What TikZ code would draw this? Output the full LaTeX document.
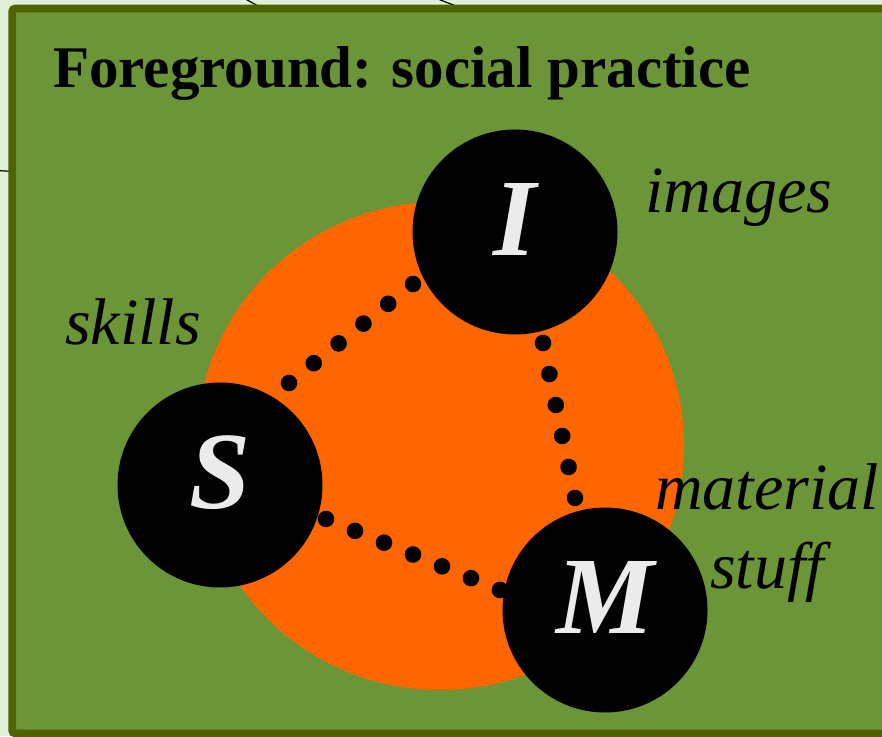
\documentclass[tikz,border=0pt]{standalone}
\usepackage{fontspec}
\setmainfont{Liberation Serif}
\usetikzlibrary{decorations.markings,calc}
\definecolor{bgpale}{HTML}{E2EFD9}
\definecolor{boxfill}{HTML}{6B9536}
\definecolor{boxline}{HTML}{4F6300}
\definecolor{blob}{HTML}{FF6600}
\definecolor{lettercol}{HTML}{EBEBEB}
\tikzset{
  elem/.style={circle, fill=black, minimum size=205pt, inner sep=0pt,
    text=lettercol, font=\fontsize{110}{110}\selectfont\bfseries\itshape, text depth=26pt},
  lbl/.style={anchor=base west, inner sep=0pt, font=\fontsize{66}{66}\selectfont\itshape},
  dotline/.style={postaction={decorate}, decoration={markings,
    mark=between positions 0 and 0.98 step #1 with {\fill[black] (0,0) circle (8.3pt);},
    mark=at position 0.9995 with {\fill[black] (0,0) circle (8.3pt);}}},
  bgcurve/.style={line width=1.2pt, black}
}
\begin{document}
\begin{tikzpicture}[x=1pt,y=1pt]
\useasboundingbox (0,0) rectangle (882,736);
\fill[bgpale] (0,0) rectangle (882,736);
% fragments of curves behind the box
\draw[bgcurve] (240,740) -- (258,730);
\draw[bgcurve] (430,740) -- (456,730);
\draw[bgcurve] (-4,565.5) -- (14,564.5);
% foreground box
\draw[boxline, fill=boxfill, line width=7.6pt, rounded corners=3pt] (12.2,2.5) rectangle (892,727.5);
\node[anchor=base west, inner sep=0pt, font=\fontsize{59}{59}\selectfont\bfseries] (title) at (53,648) {Foreground: social practice};
% orange practice circle
\fill[blob] (440,290) circle (244);
% dotted links (drawn under the element circles)
\coordinate (is1) at (413,452);
\coordinate (is2) at (289,353);
\coordinate (im1) at (543,393);
\coordinate (im2) at (575,238);
\coordinate (sm1) at (326,217);
\coordinate (sm2) at (500,146);
\path[dotline=0.2] (is1) -- (is2);
\path[dotline=0.2] (im1) -- (im2);
\path[dotline=0.16666] (sm1) -- (sm2);
% elements
\node[elem] (I) at (515,504) {I};
\node[elem] (S) at (220,251) {S};
\node[elem] (M) at (605,126) {M};
% labels
\node[lbl] (limages) at (645,523) {images};
\node[lbl] (lskills) at (65,391) {skills};
\node[lbl] (lmaterial) at (655,226) {material};
\node[lbl] (lstuff) at (710,148) {stuff};
\end{tikzpicture}
\end{document}
